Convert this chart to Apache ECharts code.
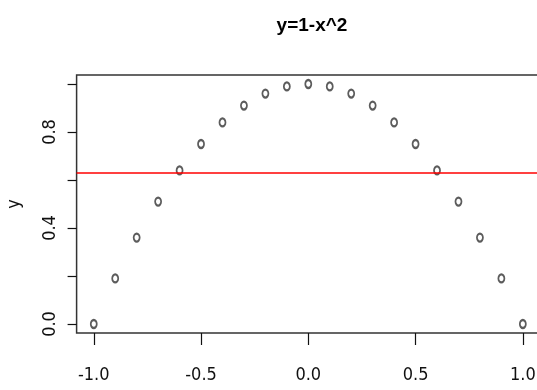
<!DOCTYPE html>
<html><head><meta charset="utf-8">
<script src="https://cdn.jsdelivr.net/npm/echarts@6/dist/echarts.min.js"></script>
<style>html,body{margin:0;padding:0;background:#fff}#c{width:537px;height:390px}</style>
</head><body><div id="c"></div>
<script>
var xValues = [-1.0,-0.9,-0.8,-0.7,-0.6,-0.5,-0.4,-0.3,-0.2,-0.1,0.0,0.1,0.2,0.3,0.4,0.5,0.6,0.7,0.8,0.9,1.0];
var yValues = [0.00,0.19,0.36,0.51,0.64,0.75,0.84,0.91,0.96,0.99,1.00,0.99,0.96,0.91,0.84,0.75,0.64,0.51,0.36,0.19,0.00];
var xTicks = [-1.0,-0.5,0.0,0.5,1.0];
var yTicks = [0.0,0.2,0.4,0.6,0.8,1.0];
var yTickLabels = [0.0,0.4,0.8];
var hlineY = 0.633;
var titleText = 'y=1-x^2';
var yName = 'y';

var font = '"DejaVu Sans Condensed", "Liberation Sans", Arial, sans-serif';
var chart = echarts.init(document.getElementById('c'), null, {renderer:'canvas'});
chart.setOption({
  animation:false,
  backgroundColor:'#fff',
  title:{text:titleText, left:307, top:11, textAlign:'center',
    textStyle:{fontFamily:'"Liberation Sans", Arial, sans-serif', fontWeight:'bold', fontSize:19, color:'#000'}},
  grid:{left:76.6, top:75, width:463.4, height:258, show:true, borderColor:'#333', borderWidth:1.5,
    backgroundColor:'transparent', containLabel:false, outerBoundsMode:'none'},
  xAxis:{type:'value', min:-1.08, max:1.08,
    axisLine:{show:false, onZero:false},
    axisTick:{show:true, inside:false, length:12, customValues:xTicks, lineStyle:{color:'#111', width:1.2}},
    axisLabel:{customValues:xTicks, margin:33, fontFamily:font, fontSize:18, color:'#111',
      formatter:function(v){return v.toFixed(1);}},
    splitLine:{show:false}},
  yAxis:{type:'value', min:-0.0375, max:1.0375,
    name:yName, nameLocation:'middle', nameGap:53, nameRotate:90,
    nameTextStyle:{fontFamily:font, fontSize:18, color:'#111'},
    axisLine:{show:false, onZero:false},
    axisTick:{show:true, length:9, customValues:yTicks, lineStyle:{color:'#111', width:1.2}},
    axisLabel:{customValues:yTickLabels, rotate:90, margin:17, fontFamily:font, fontSize:18, color:'#111',
      formatter:function(v){return v.toFixed(1);}},
    splitLine:{show:false}},
  series:[{
    type:'scatter',
    data:xValues.map(function(x,i){return [x,yValues[i]];}),
    symbol:'emptyCircle', symbolSize:[6,8],
    itemStyle:{color:'#333', borderColor:'#333', borderWidth:0.9},
    markLine:{silent:true, symbol:'none', label:{show:false},
      lineStyle:{color:'#ff0000', width:1.5, type:'solid'},
      data:[{yAxis:hlineY}]}
  }]
});
</script></body></html>
